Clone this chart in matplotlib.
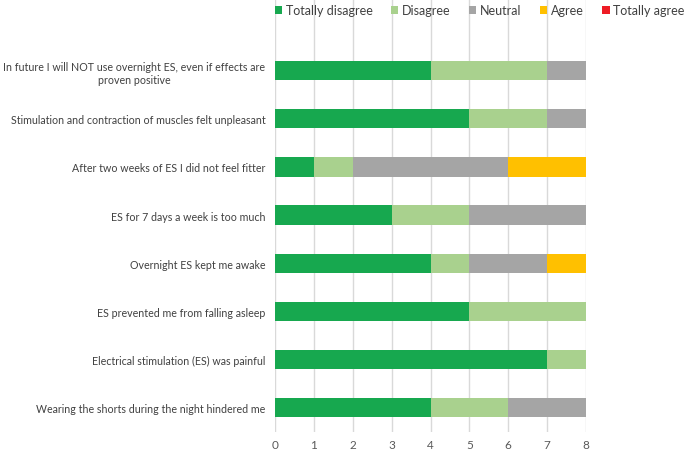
import numpy as np
import matplotlib.pyplot as plt

plt.rcParams['font.family'] = ['Lato', 'DejaVu Sans']

# categories from bottom to top
questions = ['Wearing the shorts during the night hindered me',
             'Electrical stimulation (ES) was painful',
             'ES prevented me from falling asleep',
             'Overnight ES kept me awake',
             'ES for 7 days a week is too much',
             'After two weeks of ES I did not feel fitter',
             'Stimulation and contraction of muscles felt unpleasant',
             'In future I will NOT use overnight ES, even if effects are\nproven positive']

totally_disagree = [4, 7, 5, 4, 3, 1, 5, 4]
disagree = [2, 1, 3, 1, 2, 1, 2, 3]
neutral = [2, 0, 0, 2, 3, 4, 1, 1]
agree = [0, 0, 0, 1, 0, 2, 0, 0]
totally_agree = [0, 0, 0, 0, 0, 0, 0, 0]

names = ['Totally disagree', 'Disagree', 'Neutral', 'Agree', 'Totally agree']
colors = ['#17A84F', '#A9D18E', '#A5A5A5', '#FFC000', '#EE1C25']
series = [totally_disagree, disagree, neutral, agree, totally_agree]

fig = plt.figure(figsize=(6.85, 4.52), dpi=100)
ax = fig.add_axes([0.4015, 0.043, 0.454, 0.957])

y = np.arange(len(questions))
left = np.zeros(len(questions))
for vals, name, col in zip(series, names, colors):
    ax.barh(y, vals, left=left, height=0.4, color=col, label=name, zorder=3)
    left += np.array(vals)

ax.set_xlim(0, 8)
ax.set_ylim(-0.5, 8.49)
ax.set_xticks(range(0, 9))
ax.set_yticks(y)
ax.set_yticklabels(questions, fontsize=7.7, color='#404040', ha='right', multialignment='center',
                   linespacing=1.3)
ax.tick_params(axis='y', length=0, pad=7)
ax.tick_params(axis='x', length=0, pad=5, labelsize=8.5, labelcolor='#595959')
ax.grid(axis='x', color='#D9D9D9', linewidth=1, zorder=0)
for s in ax.spines.values():
    s.set_visible(False)

fig.legend(loc='center left', bbox_to_anchor=(0.401, 0.975), ncol=5, frameon=False,
           fontsize=9, handlelength=0.6, handleheight=0.6, handletextpad=0.3,
           columnspacing=1.45, labelcolor='#404040', borderaxespad=0, borderpad=0)

fig.savefig('out.png', dpi=100)
